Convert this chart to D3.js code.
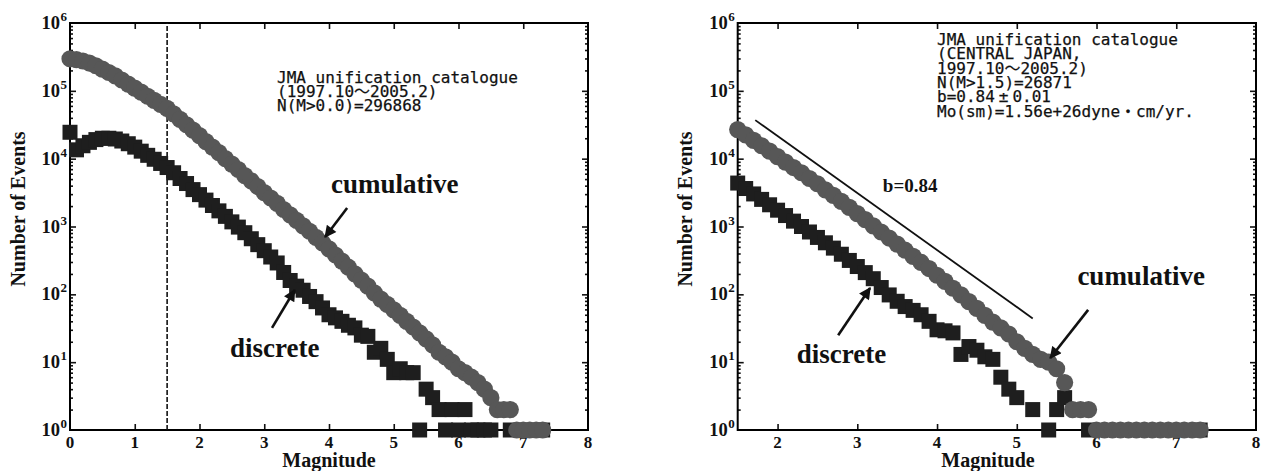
<!DOCTYPE html>
<html>
<head>
<meta charset="utf-8">
<script src="https://cdn.jsdelivr.net/npm/d3@7"></script>
<style>
  body { margin: 0; background: #fff; }
  svg { display: block; }
  .tick-label { font-family: "Liberation Serif", "Times New Roman", serif; font-weight: bold; fill: #111; }
  .note { font-family: "DejaVu Sans Mono", "Noto Sans CJK JP", monospace; font-size: 16px; fill: #111; stroke: #111; stroke-width: 0.25px; }
</style>
</head>
<body>
<svg id="chart" width="1262" height="471"></svg>
<script>
// ---- JMA unification catalogue, whole area (1997.10 - 2005.2) ----
const allJapanMagnitude = [
  0.0, 0.1, 0.2, 0.3, 0.4, 0.5, 0.6, 0.7, 0.8, 0.9,
  1.0, 1.1, 1.2, 1.3, 1.4, 1.5, 1.6, 1.7, 1.8, 1.9,
  2.0, 2.1, 2.2, 2.3, 2.4, 2.5, 2.6, 2.7, 2.8, 2.9,
  3.0, 3.1, 3.2, 3.3, 3.4, 3.5, 3.6, 3.7, 3.8, 3.9,
  4.0, 4.1, 4.2, 4.3, 4.4, 4.5, 4.6, 4.7, 4.8, 4.9,
  5.0, 5.1, 5.2, 5.3, 5.4, 5.5, 5.6, 5.7, 5.8, 5.9,
  6.0, 6.1, 6.2, 6.3, 6.4, 6.5, 6.6, 6.7, 6.8, 6.9,
  7.0, 7.1, 7.2, 7.3
];
const allJapanCumulative = [
  296868, 288400, 275400, 257000, 234400, 208900, 186200, 166000, 144500, 125900,
  109600, 95500, 83200, 72400, 63100, 55000, 45700, 38000, 31600, 26300,
  21900, 17800, 14800, 12300, 10000, 8320, 6920, 5620, 4680, 3890,
  3160, 2630, 2190, 1780, 1480, 1230, 1020, 851, 692, 575,
  468, 380, 309, 251, 200, 162, 132, 105, 85, 71,
  59, 49, 40, 33, 27, 22, 18, 14, 12, 10,
  8, 7, 6, 5, 4, 3, 2, 2, 2, 1,
  1, 1, 1, 1
];
const allJapanDiscrete = [
  24500, 13500, 15500, 17400, 19100, 20000, 20000, 19500, 18200, 16600,
  14800, 12900, 11200, 9800, 8500, 7400, 6200, 5100, 4300, 3500,
  2950, 2450, 2040, 1700, 1410, 1170, 980, 810, 660, 540,
  440, 355, 290, 210, 160, 132, 115, 93, 78, 63,
  50, 45, 40, 35, 32, 25, 24, 14, 16, 11,
  7, 8, 7, 7, 1, 4, 3, 2, 1, 2,
  1, 2, 1, 1, 1, 1, null, null, 1, null,
  null, null, null, 1
];

// ---- JMA unification catalogue, central Japan ----
const centralMagnitude = [
  1.5, 1.6, 1.7, 1.8, 1.9,
  2.0, 2.1, 2.2, 2.3, 2.4, 2.5, 2.6, 2.7, 2.8, 2.9,
  3.0, 3.1, 3.2, 3.3, 3.4, 3.5, 3.6, 3.7, 3.8, 3.9,
  4.0, 4.1, 4.2, 4.3, 4.4, 4.5, 4.6, 4.7, 4.8, 4.9,
  5.0, 5.1, 5.2, 5.3, 5.4, 5.5, 5.6, 5.7, 5.8, 5.9,
  6.0, 6.1, 6.2, 6.3, 6.4, 6.5, 6.6, 6.7, 6.8, 6.9,
  7.0, 7.1, 7.2, 7.3
];
const centralCumulative = [
  26871, 22400, 18600, 15500, 12900,
  10700, 8900, 7400, 6200, 5100, 4270, 3470, 2880, 2340, 1910,
  1550, 1260, 1020, 830, 676, 550, 447, 363, 295, 240,
  191, 155, 123, 98, 78, 62, 49, 39, 32, 26,
  20, 16, 13, 11, 10, 8, 5, 2, 2, 2,
  1, 1, 1, 1, 1, 1, 1, 1, 1, 1,
  1, 1, 1, 1
];
const centralDiscrete = [
  4370, 3630, 3020, 2510, 2090,
  1740, 1450, 1200, 1000, 830, 690, 575, 480, 390, 316,
  257, 209, 170, 126, 98, 79, 66, 58, 50, 40,
  30, 29, 27, 13, 17, 15, 12, 11, 6, 4,
  3, null, 2, null, 1, 2, 3, null, null, 1,
  null, null, null, null, null, null, null, null, null, null,
  null, null, null, 1
];

// Gutenberg-Richter b-value of the central Japan fit
const bValue = 0.84;

// Axis tick values and labels
const decadeTicks = [1, 10, 100, 1000, 10000, 100000, 1000000];
const decadeExponents = ["0", "1", "2", "3", "4", "5", "6"];
const allJapanMagTicks = [0, 1, 2, 3, 4, 5, 6, 7, 8];
const centralMagTicks = [2, 3, 4, 5, 6, 7, 8];

const allJapanNotes = ["JMA unification catalogue", "(1997.10～2005.2)", "N(M>0.0)=296868"];
const centralNotes = ["JMA unification catalogue", "(CENTRAL JAPAN,", "1997.10～2005.2)",
                      "N(M>1.5)=26871", "b=0.84±0.01", "Mo(sm)=1.56e+26dyne・cm/yr."];

const svg = d3.select("#chart");

// arrowhead shared by all pointer arrows
svg.append("defs").append("marker")
  .attr("id", "head")
  .attr("viewBox", "0 0 10 10")
  .attr("refX", 9).attr("refY", 5)
  .attr("markerWidth", 5.2).attr("markerHeight", 4.6)
  .attr("markerUnits", "strokeWidth")
  .attr("orient", "auto")
  .append("path").attr("d", "M0,0 L10,5 L0,10 Z").attr("fill", "#111");

// minor log ticks 2..9 within each decade
const minorTicks = [];
for (let d = 0; d < 6; d++) {
  for (let k = 2; k <= 9; k++) minorTicks.push(k * Math.pow(10, d));
}

function drawPanel(cfg) {
  const x = d3.scaleLinear().domain(cfg.xDomain).range(cfg.xRange);
  const y = d3.scaleLog().domain([1, 1e6]).range([430, 23]);
  const [x0, x1] = cfg.xRange;
  const [y0, y1] = [y(1), y(1e6)];
  const g = svg.append("g");

  // inward ticks on all four sides
  const styleAxis = sel => {
    sel.select(".domain").remove();
    sel.selectAll(".tick line").attr("stroke", "#111").attr("stroke-width", 1.6);
  };
  const xTickVals = cfg.xTicks.filter(v => v > cfg.xDomain[0] && v < cfg.xDomain[1]);
  g.append("g").attr("transform", `translate(0,${y0})`)
    .call(d3.axisBottom(x).tickValues(xTickVals).tickSize(-6).tickFormat("")).call(styleAxis);
  g.append("g").attr("transform", `translate(0,${y1})`)
    .call(d3.axisTop(x).tickValues(xTickVals).tickSize(-6).tickFormat("")).call(styleAxis);
  const yMajor = decadeTicks.slice(1, -1);
  g.append("g").attr("transform", `translate(${x0},0)`)
    .call(d3.axisLeft(y).tickValues(yMajor).tickSize(-6).tickFormat("")).call(styleAxis);
  g.append("g").attr("transform", `translate(${x0},0)`)
    .call(d3.axisLeft(y).tickValues(minorTicks).tickSize(-3).tickFormat("")).call(styleAxis);
  g.append("g").attr("transform", `translate(${x1},0)`)
    .call(d3.axisRight(y).tickValues(yMajor).tickSize(-6).tickFormat("")).call(styleAxis);
  g.append("g").attr("transform", `translate(${x1},0)`)
    .call(d3.axisRight(y).tickValues(minorTicks).tickSize(-3).tickFormat("")).call(styleAxis);

  // frame
  g.append("rect")
    .attr("x", x0).attr("y", y1).attr("width", x1 - x0).attr("height", y0 - y1)
    .attr("fill", "none").attr("stroke", "#000").attr("stroke-width", 2);

  // tick labels
  g.selectAll(".xl").data(cfg.xTicks).join("text")
    .attr("class", "tick-label").attr("font-size", 17)
    .attr("x", d => x(d)).attr("y", 448).attr("text-anchor", "middle")
    .text(d => d);
  g.selectAll(".yl").data(decadeTicks).join("text")
    .attr("class", "tick-label").attr("font-size", 18.5)
    .attr("x", x0 - 10).attr("y", d => y(d) + 6).attr("text-anchor", "end")
    .text("10");
  g.selectAll(".ye").data(decadeTicks).join("text")
    .attr("class", "tick-label").attr("font-size", 13)
    .attr("x", x0 - 3).attr("y", d => y(d) - 2).attr("text-anchor", "end")
    .text((d, i) => decadeExponents[i]);

  // axis titles
  g.append("text").attr("class", "tick-label").attr("font-size", 20)
    .attr("x", cfg.xTitleX).attr("y", 467).attr("text-anchor", "middle").text("Magnitude");
  g.append("text").attr("class", "tick-label").attr("font-size", 20)
    .attr("transform", `translate(${cfg.yTitleX},209) rotate(-90)`)
    .attr("text-anchor", "middle").text("Number of Events");

  if (cfg.extra) cfg.extra(g, x, y);

  // discrete counts (squares) under cumulative counts (circles)
  const disc = cfg.mag.map((m, i) => ({ m, n: cfg.discrete[i] })).filter(d => d.n != null);
  const cum = cfg.mag.map((m, i) => ({ m, n: cfg.cumulative[i] })).filter(d => d.n != null);
  const s = 15;
  g.append("g").selectAll("rect").data(disc).join("rect")
    .attr("x", d => x(d.m) - s / 2).attr("y", d => y(d.n) - s / 2)
    .attr("width", s).attr("height", s).attr("fill", "#1e1e1e");
  g.append("g").selectAll("circle").data(cum).join("circle")
    .attr("cx", d => x(d.m)).attr("cy", d => y(d.n)).attr("r", 8.6).attr("fill", "#575757");

  // legend words and pointer arrows
  cfg.labels.forEach(l => {
    g.append("text").attr("class", "tick-label").attr("font-size", l.size)
      .attr("x", x(l.m)).attr("y", y(l.n)).text(l.text);
  });
  cfg.arrows.forEach(a => {
    g.append("line")
      .attr("x1", x(a.from[0])).attr("y1", y(a.from[1]))
      .attr("x2", x(a.to[0])).attr("y2", y(a.to[1]))
      .attr("stroke", "#111").attr("stroke-width", 2.6)
      .attr("marker-end", "url(#head)");
  });

  // catalogue notes
  const notes = g.append("text").attr("class", "note");
  cfg.notes.forEach((line, i) => {
    const t = notes.append("tspan").attr("x", cfg.noteX).attr("y", cfg.noteY + i * cfg.noteStep);
    const parts = line.split("±");
    t.text(parts[0]);
    if (parts.length > 1) {
      notes.append("tspan").attr("dx", 4).text("±");
      notes.append("tspan").attr("dx", 4).text(parts[1]);
    }
  });
}

drawPanel({
  xDomain: [0, 8], xRange: [70, 588], xTicks: allJapanMagTicks,
  mag: allJapanMagnitude, cumulative: allJapanCumulative, discrete: allJapanDiscrete,
  xTitleX: 329, yTitleX: 25,
  notes: allJapanNotes, noteX: 277, noteY: 83, noteStep: 13.8,
  labels: [
    { text: "cumulative", m: 4.03, n: 3160, size: 27 },
    { text: "discrete", m: 2.47, n: 12, size: 27 }
  ],
  arrows: [
    { from: [4.28, 1870], to: [3.94, 700] },
    { from: [3.12, 32], to: [3.47, 116] }
  ],
  extra: (g, x, y) => {
    // completeness magnitude marker
    g.append("line")
      .attr("x1", x(1.5)).attr("x2", x(1.5)).attr("y1", y(1)).attr("y2", y(1e6))
      .attr("stroke", "#111").attr("stroke-width", 1.6).attr("stroke-dasharray", "5,2");
  }
});

drawPanel({
  xDomain: [1.5, 8], xRange: [737.7, 1256], xTicks: centralMagTicks,
  mag: centralMagnitude, cumulative: centralCumulative, discrete: centralDiscrete,
  xTitleX: 988, yTitleX: 692,
  notes: centralNotes, noteX: 937, noteY: 45, noteStep: 14.35,
  labels: [
    { text: "cumulative", m: 5.76, n: 138, size: 27 },
    { text: "discrete", m: 2.24, n: 9.8, size: 27 },
    { text: "b=0.84", m: 3.32, n: 3240, size: 19 }
  ],
  arrows: [
    { from: [5.895, 59], to: [5.42, 11.5] },
    { from: [2.76, 25], to: [3.16, 124] }
  ],
  extra: (g, x, y) => {
    // Gutenberg-Richter slope line, log N = a - b M
    const m1 = 1.72, m2 = 5.2, n1 = 37000;
    const n2 = n1 * Math.pow(10, -bValue * (m2 - m1));
    g.append("line")
      .attr("x1", x(m1)).attr("y1", y(n1)).attr("x2", x(m2)).attr("y2", y(n2))
      .attr("stroke", "#111").attr("stroke-width", 1.8);
  }
});
</script>
</body>
</html>
